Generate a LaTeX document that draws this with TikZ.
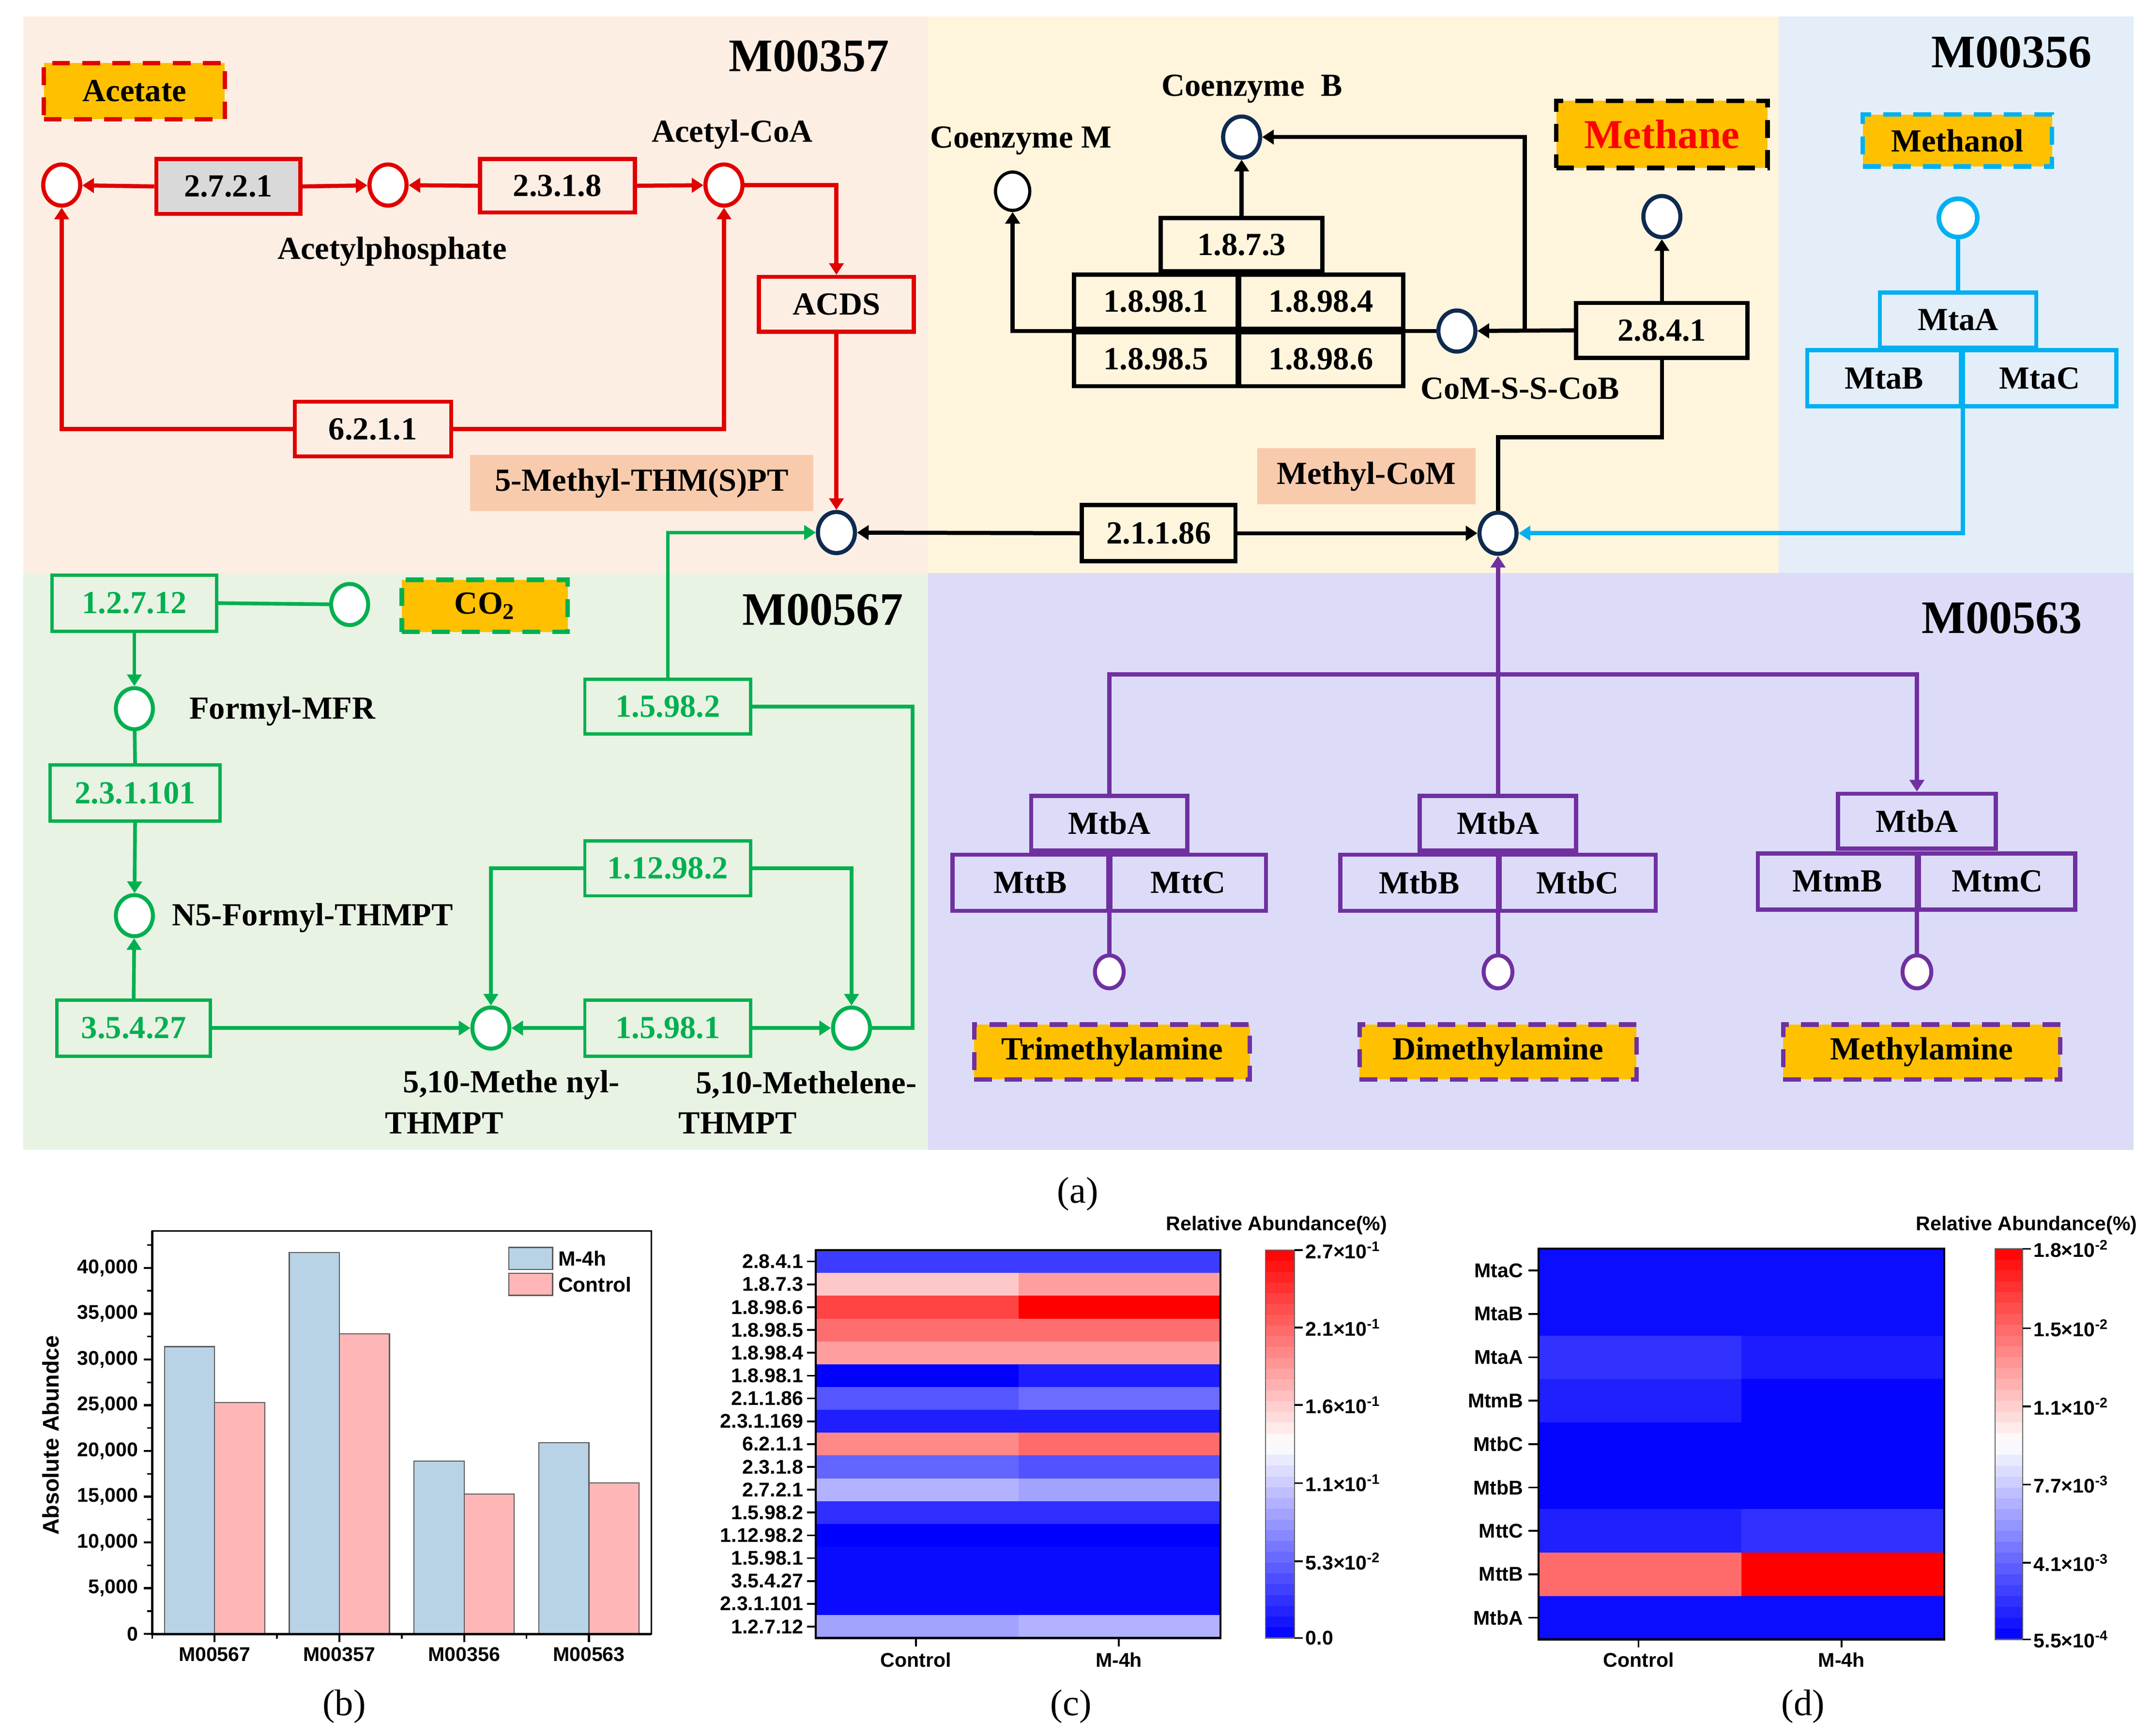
\documentclass[tikz,border=0pt]{standalone}
\usepackage{fontspec}
\setmainfont{Liberation Serif}
\setsansfont{Liberation Sans}
\usetikzlibrary{arrows.meta,shapes.geometric}
\definecolor{cred}{HTML}{E00000}
\definecolor{cgreen}{HTML}{00B050}
\definecolor{ccyan}{HTML}{00B0F0}
\definecolor{cpurple}{HTML}{7030A0}
\definecolor{cnavy}{HTML}{0E2A50}
\definecolor{corange}{HTML}{FFC000}
\definecolor{csalmon}{HTML}{F8CBAD}
\definecolor{cgrayf}{HTML}{D9D9D9}
\definecolor{bgpeach}{HTML}{FDEEE3}
\definecolor{bgyellow}{HTML}{FEF5DC}
\definecolor{bgblue}{HTML}{E4EEF8}
\definecolor{bggreen}{HTML}{E9F3E3}
\definecolor{bglav}{HTML}{DCDCF9}
\definecolor{barblue}{HTML}{B8D3E6}
\definecolor{barred}{HTML}{FFB6B6}
\newcommand\myfA{\fontsize{23.5}{27}\selectfont\bfseries}
\newcommand\myfM{\fontsize{34}{38}\selectfont\bfseries}
\newcommand\myfCH{\fontsize{30}{34}\selectfont\bfseries}
\newcommand\myfP{\fontsize{27}{31}\selectfont}
\newcommand\myfS{\fontsize{14.5}{17}\selectfont\sffamily\bfseries}
\newcommand\myfSL{\fontsize{16.5}{19}\selectfont\sffamily\bfseries}
\begin{document}
\begin{tikzpicture}[x=1pt,y=-1pt,
 txt/.style={font=\myfA,inner sep=0pt},
 sz/.style 2 args={minimum width=#1pt,minimum height=#2pt},
 box/.style={draw,inner sep=0pt,font=\myfA},
 rbox/.style={box,draw=cred,line width=3pt},
 kbox/.style={box,draw=black,line width=3.1pt},
 gbox/.style={box,draw=cgreen,line width=2.4pt,text=cgreen},
 cbox/.style={box,draw=ccyan,line width=3.1pt},
 pbox/.style={box,draw=cpurple,line width=3.1pt},
 subst/.style={box,draw=#1,line width=3.3pt,dash pattern=on 13pt off 9pt,fill=corange},
 salm/.style={fill=csalmon,inner sep=0pt,font=\myfA},
 circ/.style={ellipse,draw,fill=white,inner sep=0pt,minimum width=27pt,minimum height=30pt},
 ncirc/.style={circ,draw=cnavy,line width=3pt},
 rcirc/.style={circ,draw=cred,line width=3pt},
 gcirc/.style={circ,draw=cgreen,line width=2.9pt},
 kcirc/.style={circ,draw=black,line width=2.3pt,minimum width=25pt,minimum height=28pt},
 ccirc/.style={circ,draw=ccyan,line width=3.4pt,minimum width=28pt,minimum height=28pt},
 pcirc/.style={circ,draw=cpurple,line width=2.9pt,minimum width=21pt,minimum height=24pt},
 arr/.style={-{Triangle[length=8.5pt,width=10.5pt]}},
 rl/.style={draw=cred,line width=3pt},
 kl/.style={draw=black,line width=3pt},
 gl/.style={draw=cgreen,line width=2.7pt},
 cl/.style={draw=ccyan,line width=3.1pt},
 pl/.style={draw=cpurple,line width=3pt},
 mlab/.style={font=\myfM,inner sep=0pt},
 plab/.style={font=\myfP,inner sep=0pt},
 st/.style={font=\myfS,inner sep=1pt},
]
\useasboundingbox (0,0) rectangle (1568,1266.4);
\fill[white] (0,0) rectangle (1568,1266.4);
% backgrounds
\fill[bgpeach] (17,12) rectangle (677,418);
\fill[bgyellow] (677,12) rectangle (1297,418);
\fill[bgblue] (1297,12) rectangle (1556,418);
\fill[bggreen] (17,418) rectangle (677,839);
\fill[bglav] (677,418) rectangle (1556,839);

% ---------- M00357 ----------
\node[mlab] (m357) at (590,41) {M00357};
\node[subst=cred,sz={132}{41}] (acet) at (98,66.5) {Acetate};
\node[rcirc] (c1) at (45,135) {};
\node[rcirc] (c2) at (283,135) {};
\node[rcirc] (c3) at (528,135) {};
\node[rbox,fill=cgrayf,sz={105}{40}] (e2721) at (166.5,136) {2.7.2.1};
\node[rbox,sz={113}{39}] (e2318) at (406.5,135.5) {2.3.1.8};
\node[rbox,sz={113}{40}] (acds) at (610,222) {ACDS};
\node[rbox,sz={114}{40}] (e6211) at (272,313) {6.2.1.1};
\node[txt] (lacoa) at (534,98) {Acetyl-CoA};
\node[txt] (lacp) at (286,183.5) {Acetylphosphate};
\node[salm,sz={250}{41}] (lthm) at (468,352.5) {5-Methyl-THM(S)PT};
\node[ncirc] (thm) at (610,388.5) {};
\draw[rl,arr] (e2721.west) -- (c1);
\draw[rl,arr] (e2721.east) -- (c2);
\draw[rl,arr] (e2318.west) -- (c2);
\draw[rl,arr] (e2318.east) -- (c3);
\draw[rl,arr] (c3.east) -| (acds.north);
\draw[rl,arr] (acds.south) -- (thm);
\draw[rl,arr] (e6211.west) -| (c1.south);
\draw[rl,arr] (e6211.east) -| (c3.south);

% ---------- top middle ----------
\node[txt] (lcob) at (913,65) {Coenzyme\ \ B};
\node[ncirc] (cob) at (905.5,100) {};
\node[txt] (lcom) at (744.5,102.5) {Coenzyme M};
\node[kcirc] (com) at (738.5,139.5) {};
\node[kbox,sz={118}{39}] (e1873) at (905.5,178.5) {1.8.7.3};
\node[kbox,sz={119.5}{39.5}] (e18981) at (843,220) {1.8.98.1};
\node[kbox,sz={119.5}{39.5}] (e18984) at (963.5,220) {1.8.98.4};
\node[kbox,sz={119.5}{39.5}] (e18985) at (843,262) {1.8.98.5};
\node[kbox,sz={119.5}{39.5}] (e18986) at (963.5,262) {1.8.98.6};
\node[ncirc] (cossc) at (1062.5,241.5) {};
\node[txt] (lcossc) at (1108.5,283.5) {CoM-S-S-CoB};
\node[kbox,sz={125}{40}] (e2841) at (1212,241) {2.8.4.1};
\node[ncirc] (ch4) at (1212,158) {};
\node[subst=black,sz={154}{49},font=\myfCH,text=red] (meth) at (1212,98) {Methane};
\node[salm,sz={159}{41}] (lmcom) at (996.5,347.5) {Methyl-CoM};
\node[kbox,sz={112}{41}] (e21186) at (845,389) {2.1.1.86};
\node[ncirc] (mcom) at (1092.5,389) {};
\coordinate (jB) at (1112,241.5);
\coordinate (jM) at (1212,319);
\draw[kl,arr] (e2841.west) -- (cossc);
\draw[kl,arr] (jB) |- (cob);
\draw[kl,arr] (cossc.west) -| (com.south);
\draw[kl,arr] (e1873.north) -- (cob);
\draw[kl,arr] (e2841.north) -- (ch4);
\draw[kl] (e2841.south) -- (jM) -| (mcom.north);
\draw[kl,arr] (e21186.west) -- (thm);
\draw[kl,arr] (e21186.east) -- (mcom);

% ---------- M00356 ----------
\node[mlab] (m356) at (1467,38) {M00356};
\node[subst=ccyan,sz={138}{38}] (meoh) at (1427.5,102.5) {Methanol};
\node[ccirc] (cmeoh) at (1428,159) {};
\node[cbox,sz={114}{40}] (mtaA) at (1428,233.5) {MtaA};
\node[cbox,sz={112}{41}] (mtaB) at (1374,276) {MtaB};
\node[cbox,sz={112}{41}] (mtaC) at (1487.5,276) {MtaC};
\draw[cl] (cmeoh) -- (mtaA.north);
\draw[cl,arr] (mtaB.south east) |- (mcom);

% ---------- M00567 ----------
\node[mlab] (m567) at (600,445) {M00567};
\node[gbox,sz={120}{41}] (e12712) at (98,440) {1.2.7.12};
\node[gcirc] (gco2) at (255,441) {};
\node[subst=cgreen,sz={121}{38}] (co2) at (353.5,442) {CO\textsubscript{2}};
\node[gcirc] (fmfr) at (98,517) {};
\node[txt] (lfmfr) at (206,519) {Formyl-MFR};
\node[gbox,sz={124}{41}] (e231101) at (98.5,578.5) {2.3.1.101};
\node[gcirc] (n5) at (98,668) {};
\node[txt] (ln5) at (228,669.5) {N5-Formyl-THMPT};
\node[gbox,sz={112}{41}] (e35427) at (97.5,750) {3.5.4.27};
\node[gcirc] (menyl) at (358,750) {};
\node[gbox,sz={121}{41}] (e15981) at (487,750) {1.5.98.1};
\node[gcirc] (mlene) at (621,750) {};
\node[gbox,sz={121}{40}] (e112982) at (487,633.5) {1.12.98.2};
\node[gbox,sz={121}{40}] (e15982) at (487,515.5) {1.5.98.2};
\node[txt] (lmen1) at (373,791.5) {5,10-Methe nyl-};
\node[txt] (lmen2) at (324,819.5) {THMPT};
\node[txt] (lmel1) at (588,791.5) {5,10-Methelene-};
\node[txt] (lmel2) at (538,819.5) {THMPT};
\coordinate (gR) at (665.5,750);
\draw[gl] (e12712.east) -- (gco2);
\draw[gl,arr] (e12712.south) -- (fmfr);
\draw[gl] (fmfr) -- (e231101.north);
\draw[gl,arr] (e231101.south) -- (n5);
\draw[gl,arr] (e35427.north) -- (n5);
\draw[gl,arr] (e35427.east) -- (menyl);
\draw[gl,arr] (e15981.west) -- (menyl);
\draw[gl,arr] (e15981.east) -- (mlene);
\draw[gl,arr] (e112982.west) -| (menyl);
\draw[gl,arr] (e112982.east) -| (mlene);
\draw[gl] (mlene) -- (gR) |- (e15982.east);
\draw[gl,arr] (e15982.north) |- (thm);

% ---------- M00563 ----------
\node[mlab] (m563) at (1460,451) {M00563};
\node[pbox,sz={114}{40}] (mtbA1) at (809,600.5) {MtbA};
\node[pbox,sz={113.5}{41}] (mttB) at (751.5,644) {MttB};
\node[pbox,sz={113.5}{41}] (mttC) at (866.5,644) {MttC};
\node[pbox,sz={114}{40}] (mtbA2) at (1092.5,600.5) {MtbA};
\node[pbox,sz={115}{41}] (mtbB) at (1035,644) {MtbB};
\node[pbox,sz={114}{41}] (mtbC) at (1150.5,644) {MtbC};
\node[pbox,sz={115}{40}] (mtbA3) at (1398,599) {MtbA};
\node[pbox,sz={116}{41}] (mtmB) at (1340,643) {MtmB};
\node[pbox,sz={114}{41}] (mtmC) at (1456.5,643) {MtmC};
\node[pcirc] (p1) at (809,709) {};
\node[pcirc] (p2) at (1092.5,709) {};
\node[pcirc] (p3) at (1398,709) {};
\node[subst=cpurple,sz={201}{40}] (tma) at (811,767.5) {Trimethylamine};
\node[subst=cpurple,sz={202}{40}] (dma) at (1092.5,767.5) {Dimethylamine};
\node[subst=cpurple,sz={202}{40}] (mma) at (1401.5,767.5) {Methylamine};
\coordinate (pj) at (1092.5,492);
\draw[pl,arr] (mtbA2.north) -- (mcom);
\draw[pl] (mtbA1.north) |- (pj);
\draw[pl,arr] (pj) -| (mtbA3.north);
\draw[pl] (p1 |- mttB.south) -- (p1);
\draw[pl] (p2 |- mtbB.south) -- (p2);
\draw[pl] (p3 |- mtmB.south) -- (p3);

\node[plab] (la) at (786,871) {(a)};

% ---------- panel b ----------
\foreach \xa/\hb/\hr [count=\i] in {120/31.4/25.3, 211/41.7/32.8, 302/18.9/15.3, 393/20.9/16.5}{
  \pgfmathsetmacro\yb{1192-\hb*6.675}
  \pgfmathsetmacro\yr{1192-\hr*6.675}
  \filldraw[fill=barblue,draw=black!65,line width=0.8pt] (\xa,\yb) rectangle (\xa+36.5,1192);
  \filldraw[fill=barred,draw=black!65,line width=0.8pt] (\xa+36.5,\yr) rectangle (\xa+73,1192);
}
\foreach \lab/\xc [count=\i] in {M00567/156.5, M00357/247.5, M00356/338.5, M00563/429.5}{
  \draw[line width=1.5pt] (\xc,1192) -- (\xc,1198);
  \node[st] (bx\i) at (\xc,1207) {\lab};
}
\foreach \xc in {111,202,293,384}{\draw[line width=1.2pt] (\xc,1192) -- (\xc,1195.5);}
\draw[line width=1pt] (111,898) rectangle (475,1192);
\draw[line width=1.8pt] (111,898) -- (111,1192) -- (475,1192);
\foreach \v/\lab [count=\i] in {0/0, 5/{5,000}, 10/{10,000}, 15/{15,000}, 20/{20,000}, 25/{25,000}, 30/{30,000}, 35/{35,000}, 40/{40,000}}{
  \pgfmathsetmacro\yy{1192-\v*6.675}
  \draw[line width=1.5pt] (105,\yy) -- (111,\yy);
  \node[st,anchor=east] (by\i) at (102,\yy) {\lab};
}
\foreach \v in {2.5,7.5,...,42.5}{
  \pgfmathsetmacro\yy{1192-\v*6.675}
  \draw[line width=1.2pt] (107.5,\yy) -- (111,\yy);
}
\filldraw[fill=barblue,draw=black!65,line width=0.8pt] (371,910) rectangle (403,926);
\filldraw[fill=barred,draw=black!65,line width=0.8pt] (371,929) rectangle (403,945);
\node[st,anchor=west,font=\fontsize{15}{17}\selectfont\sffamily\bfseries] (lg1) at (406,918) {M-4h};
\node[st,anchor=west,font=\fontsize{15}{17}\selectfont\sffamily\bfseries] (lg2) at (406,937) {Control};
\node[rotate=90,font=\myfSL,inner sep=0pt] (bylab) at (37,1047) {Absolute Abundce};
\node[plab] (lb) at (251,1245) {(b)};

% ---------- panel c ----------
\foreach \lab/\ca/\cb [count=\i] in {2.8.4.1/3C3CFF/3C3CFF, 1.8.7.3/FFC8C8/FF9E9E, 1.8.98.6/FF4444/FF0000, 1.8.98.5/FF6E6E/FF6E6E, 1.8.98.4/FF9E9E/FF9E9E, 1.8.98.1/0000FF/1C1CFF, 2.1.1.86/5656FF/6C6CFF, 2.3.1.169/1E1EFF/1E1EFF, 6.2.1.1/FF8888/FF6A6A, 2.3.1.8/6464FF/5252FF, 2.7.2.1/B2B2FF/A2A2FF, 1.5.98.2/2E2EFF/2E2EFF, 1.12.98.2/0000FF/0000FF, 1.5.98.1/0A0AFF/0A0AFF, 3.5.4.27/0A0AFF/0A0AFF, 2.3.1.101/0A0AFF/0A0AFF, 1.2.7.12/A2A2FF/B2B2FF}{
  \pgfmathsetmacro\ya{912+(\i-1)*16.647}
  \pgfmathsetmacro\yb{912+\i*16.647+0.3}
  \pgfmathsetmacro\ym{912+(\i-0.5)*16.647}
  \definecolor{tmpa}{HTML}{\ca}\definecolor{tmpb}{HTML}{\cb}
  \fill[tmpa] (595,\ya) rectangle (743.3,\yb);
  \fill[tmpb] (743,\ya) rectangle (890,\yb);
  \draw[line width=1.3pt] (588.5,\ym) -- (595,\ym);
  \node[st,anchor=east] (hc\i) at (587,\ym) {\lab};
}
\draw[line width=1.5pt] (595,912) rectangle (890,1195);
\foreach \xc/\lab [count=\i] in {668/Control, 816/M-4h}{
  \draw[line width=1.3pt] (\xc,1195) -- (\xc,1201);
  \node[st] (hcx\i) at (\xc,1211) {\lab};
}
\foreach \k in {0,...,35}{
  \pgfmathsetmacro\myt{(\k+0.5)/36}
  \pgfmathsetmacro\mypb{100*(1-2*\myt)}
  \pgfmathsetmacro\mypr{100*(2*\myt-1)}
  \pgfmathsetmacro\yk{1195-\k*283/36}
  \pgfmathsetmacro\ykk{1195-(\k+1)*283/36-0.3}
  \ifdim\myt pt<0.5pt \colorlet{cbc}{blue!\mypb!white}\else\colorlet{cbc}{red!\mypr!white}\fi
  \fill[cbc] (923,\yk) rectangle (944,\ykk);
}
\draw[black!60,line width=0.8pt] (923,912) rectangle (944,1195);
\foreach \yy/\lab [count=\i] in {912/{2.7×10\textsuperscript{-1}}, 968.5/{2.1×10\textsuperscript{-1}}, 1025/{1.6×10\textsuperscript{-1}}, 1082/{1.1×10\textsuperscript{-1}}, 1139/{5.3×10\textsuperscript{-2}}, 1195/{0.0}}{
  \draw[line width=1.2pt] (944,\yy) -- (950,\yy);
  \node[st,anchor=west] (hcb\i) at (951,\yy) {\lab};
}
\node[st] (hct) at (931,894) {Relative Abundance(\%)};
\node[plab] (lc) at (781,1245) {(c)};

% ---------- panel d ----------
\foreach \lab/\ca/\cb [count=\i] in {MtaC/0C0CFF/0C0CFF, MtaB/0C0CFF/0C0CFF, MtaA/3232FF/1C1CFF, MtmB/2020FF/0505FF, MtbC/0505FF/0505FF, MtbB/0505FF/0505FF, MttC/2020FF/3030FF, MttB/FF6B6B/FF0000, MtbA/0C0CFF/0C0CFF}{
  \pgfmathsetmacro\ya{911+(\i-1)*31.667}
  \pgfmathsetmacro\yb{911+\i*31.667+0.3}
  \pgfmathsetmacro\ym{911+(\i-0.5)*31.667}
  \definecolor{tmpa}{HTML}{\ca}\definecolor{tmpb}{HTML}{\cb}
  \fill[tmpa] (1122,\ya) rectangle (1270.3,\yb);
  \fill[tmpb] (1270,\ya) rectangle (1418,\yb);
  \draw[line width=1.3pt] (1114.5,\ym) -- (1122,\ym);
  \node[st,anchor=east] (hd\i) at (1112,\ym) {\lab};
}
\draw[line width=1.5pt] (1122,911) rectangle (1418,1196);
\foreach \xc/\lab [count=\i] in {1195/Control, 1343/M-4h}{
  \draw[line width=1.3pt] (\xc,1196) -- (\xc,1202);
  \node[st] (hdx\i) at (\xc,1211) {\lab};
}
\foreach \k in {0,...,35}{
  \pgfmathsetmacro\myt{(\k+0.5)/36}
  \pgfmathsetmacro\mypb{100*(1-2*\myt)}
  \pgfmathsetmacro\mypr{100*(2*\myt-1)}
  \pgfmathsetmacro\yk{1196-\k*285/36}
  \pgfmathsetmacro\ykk{1196-(\k+1)*285/36-0.3}
  \ifdim\myt pt<0.5pt \colorlet{cbc}{blue!\mypb!white}\else\colorlet{cbc}{red!\mypr!white}\fi
  \fill[cbc] (1455,\yk) rectangle (1475,\ykk);
}
\draw[black!60,line width=0.8pt] (1455,911) rectangle (1475,1196);
\foreach \yy/\lab [count=\i] in {911/{1.8×10\textsuperscript{-2}}, 969/{1.5×10\textsuperscript{-2}}, 1026/{1.1×10\textsuperscript{-2}}, 1083/{7.7×10\textsuperscript{-3}}, 1140/{4.1×10\textsuperscript{-3}}, 1196/{5.5×10\textsuperscript{-4}}}{
  \draw[line width=1.2pt] (1475,\yy) -- (1481,\yy);
  \node[st,anchor=west] (hdb\i) at (1482,\yy) {\lab};
}
\node[st] (hdt) at (1478,894) {Relative Abundance(\%)};
\node[plab] (ld) at (1315,1245) {(d)};
\end{tikzpicture}
\end{document}
